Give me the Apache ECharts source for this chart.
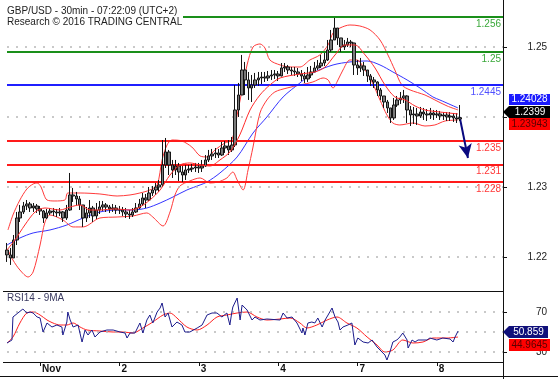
<!DOCTYPE html>
<html>
<head>
<meta charset="utf-8">
<script src="https://cdn.jsdelivr.net/npm/echarts@6.0.0/dist/echarts.min.js"></script>
<style>html,body{margin:0;padding:0;background:#fff}#c{width:558px;height:379px}</style>
</head>
<body>
<div id="c"></div>
<script>
// ---- hourly bars (x = hour index since first bar) ----
const opens = [1.2210,1.22029,1.21986,1.22243,1.22557,1.22643,1.22729,1.22757,1.227,1.22729,
 1.22686,1.22657,1.22557,1.22629,1.22657,1.22643,1.22629,1.22643,1.22557,1.22671,
 1.22886,1.22871,1.22829,1.22743,1.22557,1.22629,1.227,1.22586,1.22671,1.22714,
 1.22743,1.22714,1.22686,1.227,1.22671,1.22671,1.22643,1.22614,1.226,1.22643,
 1.227,1.22757,1.22843,1.22814,1.22914,1.22957,1.23,1.23029,1.23314,1.235,
 1.23314,1.23243,1.233,1.23214,1.23171,1.23243,1.23257,1.23271,1.23286,1.23271,
 1.233,1.23386,1.23443,1.23471,1.23486,1.23457,1.23557,1.23586,1.23529,1.236,
 1.241,1.24314,1.24671,1.24529,1.24414,1.24457,1.24529,1.24557,1.24571,1.24557,
 1.24586,1.246,1.24614,1.24586,1.247,1.24714,1.24671,1.24657,1.24643,1.24614,
 1.24586,1.24543,1.246,1.24643,1.247,1.24729,1.24771,1.24814,1.24957,1.251,
 1.25271,1.25129,1.25,1.25029,1.25071,1.25057,1.24743,1.247,1.24729,1.24671,
 1.24586,1.24529,1.245,1.24386,1.243,1.24214,1.24129,1.23986,1.24171,1.24243,
 1.24271,1.243,1.241,1.24029,1.24043,1.24014,1.24071,1.24043,1.24029,1.24057,
 1.24029,1.24043,1.24014,1.24029,1.24,1.24014,1.23986,1.23971];
const closes = [1.22029,1.21986,1.22243,1.22557,1.22643,1.22729,1.22757,1.227,1.22729,1.22686,
 1.22657,1.22557,1.22629,1.22657,1.22643,1.22629,1.22643,1.22557,1.22671,1.22886,
 1.22871,1.22829,1.22743,1.22557,1.22629,1.227,1.22586,1.22671,1.22714,1.22743,
 1.22714,1.22686,1.227,1.22671,1.22671,1.22643,1.22614,1.226,1.22643,1.227,
 1.22757,1.22843,1.22814,1.22914,1.22957,1.23,1.23029,1.23314,1.235,1.23314,
 1.23243,1.233,1.23214,1.23171,1.23243,1.23257,1.23271,1.23286,1.23271,1.233,
 1.23386,1.23443,1.23471,1.23486,1.23457,1.23557,1.23586,1.23529,1.236,1.241,
 1.24314,1.24671,1.24529,1.24414,1.24457,1.24529,1.24557,1.24571,1.24557,1.24586,
 1.246,1.24614,1.24586,1.247,1.24714,1.24671,1.24657,1.24643,1.24614,1.24586,
 1.24543,1.246,1.24643,1.247,1.24729,1.24771,1.24814,1.24957,1.251,1.25271,
 1.25129,1.25,1.25029,1.25071,1.25057,1.24743,1.247,1.24729,1.24671,1.24586,
 1.24529,1.245,1.24386,1.243,1.24214,1.24129,1.23986,1.24171,1.24243,1.24271,
 1.243,1.241,1.24029,1.24043,1.24014,1.24071,1.24043,1.24029,1.24057,1.24029,
 1.24043,1.24014,1.24029,1.24,1.24014,1.23986,1.23971,1.2399];
const highs = [1.222,1.22129,1.22314,1.22643,1.22743,1.22786,1.22814,1.22786,1.22771,1.22757,
 1.22729,1.22671,1.22686,1.227,1.227,1.22686,1.227,1.22657,1.22743,1.232,
 1.22986,1.22929,1.22871,1.22743,1.22714,1.22814,1.22729,1.22771,1.228,1.228,
 1.22771,1.22743,1.22757,1.22743,1.22729,1.22714,1.227,1.22671,1.227,1.22771,
 1.22829,1.22914,1.229,1.23,1.23014,1.23057,1.231,1.23671,1.237,1.23529,
 1.23386,1.23386,1.23343,1.233,1.23314,1.23314,1.23329,1.23343,1.23343,1.23386,
 1.23457,1.23529,1.23543,1.23557,1.23543,1.23643,1.23657,1.23671,1.23714,1.24457,
 1.24486,1.24886,1.24786,1.24643,1.246,1.24629,1.24643,1.24643,1.24643,1.24657,
 1.24671,1.24671,1.24657,1.24771,1.24771,1.24743,1.24714,1.24714,1.247,1.24671,
 1.24643,1.24714,1.24729,1.24786,1.24814,1.24886,1.24914,1.251,1.25243,1.25414,
 1.25271,1.25129,1.251,1.25129,1.251,1.2506,1.24814,1.24843,1.24786,1.24671,
 1.24614,1.24571,1.2451,1.24414,1.243,1.24243,1.24129,1.24271,1.243,1.24357,
 1.24386,1.2431,1.24157,1.24143,1.24129,1.24143,1.24129,1.24114,1.24129,1.241,
 1.241,1.24086,1.24071,1.24071,1.24071,1.24057,1.24057,1.24171];
const lows = [1.21929,1.21886,1.21986,1.22171,1.225,1.22614,1.22671,1.22643,1.22643,1.22629,
 1.226,1.22486,1.22543,1.226,1.22586,1.22571,1.22586,1.225,1.22529,1.2266,
 1.22786,1.22743,1.22671,1.22429,1.225,1.22557,1.225,1.22543,1.22614,1.22657,
 1.22643,1.22629,1.22643,1.22614,1.22614,1.22586,1.22557,1.22543,1.22571,1.22629,
 1.22686,1.22729,1.227,1.228,1.22871,1.22886,1.22929,1.23,1.23271,1.23171,
 1.23129,1.23171,1.23086,1.23071,1.231,1.232,1.23214,1.23214,1.232,1.23214,
 1.23286,1.23357,1.23386,1.23414,1.23414,1.23443,1.23486,1.23457,1.235,1.23571,
 1.24,1.24314,1.24314,1.24243,1.24214,1.24414,1.24443,1.24471,1.245,1.24514,
 1.24529,1.24543,1.24514,1.2458,1.24643,1.24614,1.246,1.24586,1.24571,1.24514,
 1.24486,1.245,1.24557,1.24643,1.24671,1.247,1.24729,1.2480,1.24929,1.251,
 1.25029,1.24929,1.24957,1.25,1.25,1.246,1.246,1.24643,1.24586,1.245,
 1.24443,1.24414,1.243,1.24243,1.24129,1.24057,1.23914,1.23957,1.24143,1.24186,
 1.242,1.23914,1.23871,1.239,1.23886,1.23986,1.23957,1.23943,1.23971,1.23957,
 1.23986,1.23957,1.23957,1.23943,1.23943,1.23929,1.23914,1.23943];

// ---- indicators: [hour, value] ----
const upperBand = [[0.3,1.22386],[1.8,1.226],[3.9,1.22814],[6.0,1.22971],[7.9,1.23043],[9.1,1.23057],[10.3,1.23],[11.2,1.22886],[12.1,1.22814],[14.5,1.228],[17.5,1.22814],[18.4,1.22914],[22.1,1.22914],[28.1,1.229],[33.3,1.22871],[37.2,1.22886],[40.2,1.22914],[43.2,1.22957],[45.4,1.23029],[46.9,1.23386],[48.4,1.236],[49.9,1.23671],[52.9,1.23657],[55.9,1.23571],[58.4,1.23443],[60.5,1.23429],[62.9,1.23529],[65.9,1.23629],[68.0,1.23671],[69.6,1.24029],[71.1,1.24386],[72.6,1.24743],[74.4,1.25],[76.5,1.25043],[78.0,1.24986],[79.5,1.24814],[82.6,1.24743],[85.6,1.24714],[88.6,1.24714],[91.6,1.24814],[94.6,1.24886],[97.1,1.25029],[98.6,1.252],[100.7,1.25271],[103.7,1.25314],[106.7,1.253],[109.8,1.25243],[112.8,1.251],[115.2,1.24886],[117.3,1.24671],[119.4,1.24457],[121.9,1.24386],[126.4,1.24314],[129.4,1.24243],[133.1,1.24157],[136.4,1.241]];
const middleBand = [[0,1.221],[2.4,1.22243],[5.4,1.22457],[8.5,1.22643],[11.5,1.227],[16.0,1.22671],[19.1,1.22714],[22.1,1.22743],[25.1,1.22671],[28.1,1.22671],[32.7,1.22686],[37.2,1.22671],[40.2,1.22714],[43.2,1.22814],[46.3,1.22957],[49.3,1.23171],[52.3,1.23314],[55.3,1.23343],[58.4,1.23314],[61.4,1.233],[64.4,1.23386],[67.4,1.235],[70.4,1.23743],[73.5,1.241],[76.5,1.24314],[79.5,1.24457],[82.6,1.24557],[88.6,1.24614],[93.1,1.24643],[96.2,1.24714],[99.2,1.24886],[102.2,1.25029],[105.2,1.25029],[108.3,1.24886],[111.3,1.247],[114.3,1.24457],[117.3,1.24286],[120.4,1.24243],[123.4,1.24157],[126.4,1.241],[130.9,1.24071],[136.4,1.24043]];
const lowerBand = [[0.3,1.221],[1.8,1.21957],[3.9,1.21814],[6.4,1.21714],[7.9,1.21786],[10.0,1.22171],[11.5,1.225],[13.0,1.226],[16.9,1.22529],[20.0,1.22429],[23.0,1.22429],[28.1,1.22557],[33.3,1.22571],[38.1,1.22586],[42.3,1.22629],[44.1,1.22571],[47.2,1.22443],[49.3,1.22643],[50.8,1.22886],[52.3,1.23014],[55.3,1.23086],[58.4,1.23129],[61.4,1.23057],[63.8,1.23071],[66.5,1.23129],[68.3,1.23214],[69.6,1.231],[71.4,1.22957],[72.9,1.23243],[74.4,1.23571],[76.5,1.24057],[78.6,1.24243],[81.0,1.24357],[84.7,1.24414],[88.6,1.24457],[92.5,1.245],[95.6,1.24557],[97.1,1.24529],[98.6,1.24414],[100.1,1.24529],[101.6,1.24671],[103.7,1.24814],[105.8,1.24814],[108.3,1.24671],[110.4,1.245],[112.8,1.24243],[114.9,1.24029],[116.7,1.23914],[118.8,1.23886],[122.8,1.23914],[126.4,1.23871],[129.4,1.23886],[132.5,1.23943],[136.4,1.23957]];
const movingAvg = [[0,1.22171],[3.9,1.22271],[7.9,1.22343],[13.0,1.22386],[18.1,1.22457],[23.0,1.22557],[28.1,1.22643],[33.3,1.22671],[38.1,1.22671],[42.3,1.227],[46.3,1.22771],[50.2,1.22857],[54.4,1.22957],[58.4,1.23029],[60.5,1.23071],[64.4,1.232],[69.6,1.23429],[74.4,1.23771],[78.6,1.24],[83.5,1.24286],[88.6,1.24486],[92.5,1.24629],[98.6,1.24743],[103.7,1.24786],[108.9,1.248],[112.8,1.24743],[116.7,1.24643],[121.0,1.24529],[124.9,1.24414],[128.8,1.24286],[130.9,1.24243],[136.4,1.24129]];
const rsi = [[0,39],[1.5,42],[1.8,65],[3.3,69],[4.8,73],[6.0,69],[7.0,70],[7.9,69],[9.1,65],[10.0,64],[10.9,50],[12.1,59],[13.6,55],[15.1,57],[16.6,55],[16.9,47],[18.1,60],[18.4,70],[19.1,62],[20.0,55],[21.5,57],[22.7,40],[23.6,52],[24.5,47],[25.7,52],[26.6,45],[28.1,50],[30.2,52],[32.1,52],[34.2,50],[35.7,49],[36.3,44],[37.2,49],[38.7,49],[40.2,59],[41.1,49],[42.3,62],[43.2,67],[44.1,59],[45.4,70],[46.3,74],[46.9,79],[47.8,65],[48.7,69],[49.9,55],[51.4,60],[52.9,57],[53.8,50],[55.3,50],[57.5,54],[59.0,57],[60.5,67],[62.0,69],[63.5,69],[65.0,65],[66.5,69],[67.4,57],[68.0,70],[68.3,75],[69.6,84],[70.5,62],[71.1,77],[72.6,72],[74.1,62],[75.0,65],[76.5,62],[78.6,63],[82.6,62],[83.5,69],[84.7,64],[86.2,65],[87.7,59],[89.2,49],[89.5,54],[90.1,47],[91.0,59],[92.2,60],[93.1,59],[94.0,64],[95.3,55],[96.2,62],[97.1,67],[98.3,74],[99.2,65],[100.1,60],[100.7,52],[101.6,55],[103.1,57],[104.3,59],[105.2,37],[106.1,44],[107.7,40],[109.2,39],[110.4,42],[111.9,35],[113.4,30],[114.3,27],[114.9,22],[115.8,30],[116.7,40],[117.9,42],[118.8,45],[119.7,49],[121.0,42],[121.3,34],[122.5,42],[123.4,40],[124.3,42],[125.5,42],[127.0,42],[127.9,44],[130.0,42],[131.8,44],[134.0,43],[134.9,40],[135.5,45],[136.4,50.859]];
const rsiMa = [[0,39],[1.8,45],[3.9,59],[6.0,69],[7.9,70],[10.0,67],[12.1,62],[13.9,59],[16.0,57],[18.1,57],[20.0,59],[22.1,55],[24.2,52],[28.1,51],[32.1,50],[35.1,50],[38.1,49],[41.1,54],[44.1,60],[47.2,67],[49.3,69],[51.4,64],[54.4,55],[57.5,52],[60.5,57],[63.5,65],[66.5,67],[69.6,69],[72.6,70],[75.6,65],[78.6,62],[82.6,63],[85.6,64],[88.6,59],[90.7,54],[93.7,57],[96.8,62],[99.8,65],[102.8,59],[105.8,54],[108.9,45],[111.9,37],[114.3,30],[116.7,32],[119.7,42],[122.8,39],[125.8,40],[128.8,44],[133.1,44],[136.4,44.9645]];

// ---- levels, ticks, labels ----
const levelValues = [1.25429, 1.24929, 1.24457, 1.23657, 1.23319, 1.23071];
const levelLabels = ['1.256', '1.25', '1.2445', '1.235', '1.231', '1.228'];
const arrowX = [136.9, 139.4];
const arrowY = [1.2400, 1.23414];
const dayTicks = [10, 34, 58, 82, 106, 130];
const dayLabels = ['Nov', '2', '3', '4', '7', '8'];
const priceGrid = [1.22, 1.23, 1.24, 1.25];
const priceLabels = [1.22, 1.23, 1.25];
const rsiGrid = [30, 50, 70];
const rsiLabels = [30, 70];
const lastPrice = ['1.24028', '1.2399', '1.23943'];
const lastRsi = ['50.859', '44.9645'];

const FONT = 'Liberation Sans, Arial, sans-serif';
const FS = 10;
const levelLineColors = ['#1a8f1a', '#1a8f1a', '#1f1fff', '#ff1a1a', '#ff1a1a', '#ff1a1a'];
const levelTextColors = ['#3aa83a', '#3aa83a', '#5050ff', '#ff3838', '#ff3838', '#ff3838'];

const candleData = closes.map((c, i) => [i, opens[i], c, lows[i], highs[i]]);
const dotted = { color: '#b8b8b8', type: [2, 7], width: 1.5 };

const chart = echarts.init(document.getElementById('c'), null, { renderer: 'canvas' });
chart.setOption({
  animation: false,
  backgroundColor: '#fff',
  textStyle: { fontFamily: FONT },
  grid: [
    { left: 7, right: 55, top: 0, height: 291 },
    { left: 7, right: 55, top: 291, height: 71 }
  ],
  xAxis: [
    { type: 'value', gridIndex: 0, min: 0, max: 150,
      axisLine: { show: true, onZero: false, lineStyle: { color: '#111', width: 1 } },
      axisTick: { show: false }, axisLabel: { show: false }, splitLine: { show: false } },
    { type: 'value', gridIndex: 1, min: 0, max: 150,
      axisLine: { show: true, onZero: false, lineStyle: { color: '#111', width: 1 } },
      axisTick: { show: true, customValues: dayTicks, length: 4, lineStyle: { color: '#111' } },
      axisLabel: { show: true, customValues: dayTicks, align: 'left', margin: 2, padding: [0, 0, 0, 2],
        fontSize: FS, fontWeight: 'bold', color: '#111', fontFamily: FONT,
        formatter: v => dayLabels[dayTicks.indexOf(Math.round(v))] || '' },
      splitLine: { show: false } }
  ],
  yAxis: [
    { type: 'value', gridIndex: 0, position: 'right', min: 1.21514, max: 1.25671,
      axisLine: { show: true, onZero: false, lineStyle: { color: '#111' } },
      axisTick: { show: true, customValues: priceGrid, length: 4, lineStyle: { color: '#111' } },
      axisLabel: { show: true, customValues: priceLabels, align: 'right', margin: 44,
        fontSize: FS, color: '#222', fontFamily: FONT, formatter: v => v.toFixed(2) },
      splitLine: { show: false } },
    { type: 'value', gridIndex: 1, position: 'right', min: 20, max: 91,
      axisLine: { show: true, onZero: false, lineStyle: { color: '#111' } },
      axisTick: { show: true, customValues: rsiGrid, length: 4, lineStyle: { color: '#111' } },
      axisLabel: { show: true, customValues: rsiLabels, align: 'right', margin: 44,
        fontSize: FS, color: '#222', fontFamily: FONT },
      splitLine: { show: false } }
  ],
  series: [
    { type: 'line', xAxisIndex: 0, yAxisIndex: 0, data: [], silent: true,
      markLine: { silent: true, precision: 6, symbol: ['none', 'none'], label: { show: false },
        lineStyle: dotted, data: priceGrid.map(v => ({ yAxis: v })) } },
    { type: 'line', xAxisIndex: 1, yAxisIndex: 1, data: [], silent: true,
      markLine: { silent: true, precision: 6, symbol: ['none', 'none'], label: { show: false },
        lineStyle: dotted, data: rsiGrid.map(v => ({ yAxis: v })) } },
    { type: 'line', xAxisIndex: 0, yAxisIndex: 0, data: [], silent: true, z: 3,
      markLine: { silent: true, precision: 6, symbol: ['none', 'none'],
        label: { show: true, position: 'insideEndBottom', distance: 2, fontSize: FS, fontFamily: FONT },
        data: levelValues.map((v, i) => ({ yAxis: v,
          lineStyle: { color: levelLineColors[i], width: 2, type: 'solid' },
          label: { formatter: levelLabels[i], color: levelTextColors[i] } })) } },
    { type: 'line', xAxisIndex: 0, yAxisIndex: 0, data: movingAvg, showSymbol: false, smooth: 0.3,
      lineStyle: { color: '#3434ff', width: 1 }, z: 4 },
    { type: 'line', xAxisIndex: 0, yAxisIndex: 0, data: upperBand, showSymbol: false, smooth: 0.3,
      lineStyle: { color: '#ff3a3a', width: 1 }, z: 4 },
    { type: 'line', xAxisIndex: 0, yAxisIndex: 0, data: lowerBand, showSymbol: false, smooth: 0.3,
      lineStyle: { color: '#ff3a3a', width: 1 }, z: 4 },
    { type: 'candlestick', xAxisIndex: 0, yAxisIndex: 0, data: candleData,
      encode: { x: 0, y: [1, 2, 3, 4] }, barWidth: 3, z: 5,
      itemStyle: { color: '#7a7a7a', color0: '#7a7a7a', borderColor: '#151515', borderColor0: '#151515', borderWidth: 1 } },
    { type: 'line', xAxisIndex: 0, yAxisIndex: 0, data: middleBand, showSymbol: false, smooth: 0.3,
      lineStyle: { color: '#ff2a2a', width: 1 }, z: 6,
      markLine: { silent: true, precision: 6, symbol: ['none', 'arrow'], symbolSize: [10, 14], label: { show: false },
        lineStyle: { color: '#0a0a80', width: 2, type: 'solid' },
        data: [[{ coord: [arrowX[0], arrowY[0]] }, { coord: [arrowX[1], arrowY[1]] }]] } },
    { type: 'line', xAxisIndex: 1, yAxisIndex: 1, data: rsiMa, showSymbol: false, smooth: 0.3,
      lineStyle: { color: '#ff2020', width: 1 }, z: 4 },
    { type: 'line', xAxisIndex: 1, yAxisIndex: 1, data: rsi, showSymbol: false,
      lineStyle: { color: '#1c1c8c', width: 1 }, z: 5 }
  ],
  graphic: [
    { type: 'rect', left: 0, top: 0, z: 100, shape: { width: 183, height: 28 }, style: { fill: '#fff' } },
    { type: 'text', left: 7, top: 6.5, z: 101, style: { text: 'GBP/USD - 30min - 07:22:09 (UTC+2)', font: FS + 'px ' + FONT, fill: '#222' } },
    { type: 'text', left: 7, top: 17.5, z: 101, style: { text: 'Research © 2016 TRADING CENTRAL', font: FS + 'px ' + FONT, fill: '#222' } },
    { type: 'text', left: 7, top: 293, z: 101, style: { text: 'RSI14 - 9MA', font: FS + 'px ' + FONT, fill: '#3a3a60' } },
    // price boxes
    { type: 'rect', left: 509, top: 94, z: 100, shape: { width: 41, height: 11 }, style: { fill: '#1a1aff' } },
    { type: 'text', x: 529.5, y: 99.5, z: 101, style: { text: lastPrice[0], font: FS + 'px ' + FONT, fill: '#fff', align: 'center', verticalAlign: 'middle' } },
    { type: 'polygon', z: 100, shape: { points: [[503, 112], [509, 106], [550, 106], [550, 118], [509, 118]] }, style: { fill: '#000' } },
    { type: 'text', x: 530, y: 112, z: 101, style: { text: lastPrice[1], font: FS + 'px ' + FONT, fill: '#fff', align: 'center', verticalAlign: 'middle' } },
    { type: 'rect', left: 509, top: 118, z: 100, shape: { width: 41, height: 12 }, style: { fill: '#ff0000' } },
    { type: 'text', x: 529.5, y: 124.5, z: 101, style: { text: lastPrice[2], font: FS + 'px ' + FONT, fill: '#5a0000', align: 'center', verticalAlign: 'middle' } },
    // RSI boxes
    { type: 'polygon', z: 100, shape: { points: [[503, 332], [509, 326], [548, 326], [548, 338], [509, 338]] }, style: { fill: '#10107a' } },
    { type: 'text', x: 528.5, y: 332, z: 101, style: { text: lastRsi[0], font: FS + 'px ' + FONT, fill: '#fff', align: 'center', verticalAlign: 'middle' } },
    { type: 'rect', left: 509, top: 339, z: 100, shape: { width: 41, height: 12 }, style: { fill: '#ff0000' } },
    { type: 'text', x: 529.5, y: 345, z: 101, style: { text: lastRsi[1], font: FS + 'px ' + FONT, fill: '#5a0000', align: 'center', verticalAlign: 'middle' } },
    // frame extensions
    { type: 'line', z: 100, shape: { x1: 503.5, y1: 362, x2: 503.5, y2: 379 }, style: { stroke: '#111', lineWidth: 1 } },
    { type: 'line', z: 100, shape: { x1: 0, y1: 376.5, x2: 558, y2: 376.5 }, style: { stroke: '#111', lineWidth: 1 } },
    { type: 'line', z: 100, shape: { x1: 3, y1: 291.5, x2: 7, y2: 291.5 }, style: { stroke: '#111', lineWidth: 1 } },
    { type: 'line', z: 100, shape: { x1: 3, y1: 362.5, x2: 7, y2: 362.5 }, style: { stroke: '#111', lineWidth: 1 } }
  ]
});
</script>
</body>
</html>
